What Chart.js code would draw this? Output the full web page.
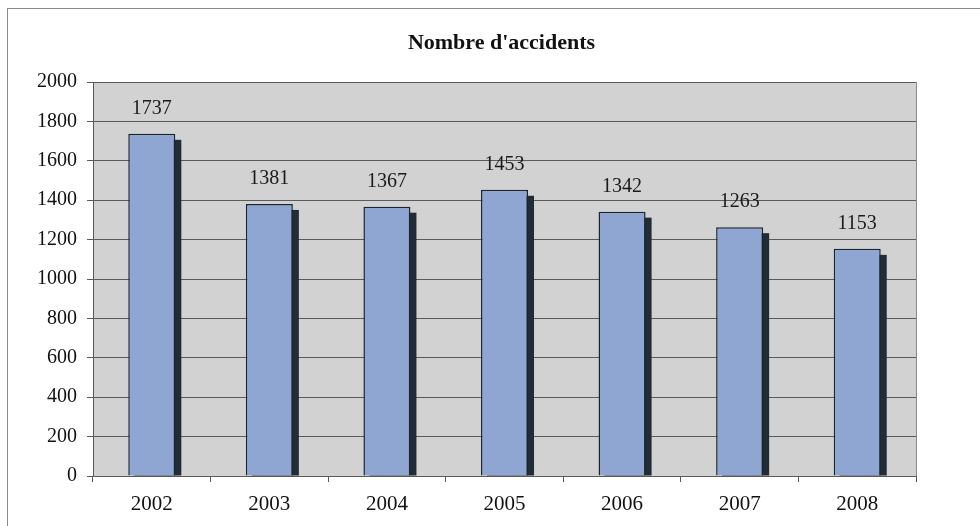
<!DOCTYPE html>
<html>
<head>
<meta charset="utf-8">
<script src="https://cdn.jsdelivr.net/npm/chart.js@4/dist/chart.umd.min.js"></script>
<style>
  html, body { margin: 0; padding: 0; background: #fff; }
  #wrap { width: 980px; height: 526px; }
</style>
</head>
<body>
<div id="wrap"><canvas id="chart" width="980" height="526"></canvas></div>
<script>
const years = ['2002', '2003', '2004', '2005', '2006', '2007', '2008'];
const accidents = [1737, 1381, 1367, 1453, 1342, 1263, 1153];
const yTicks = [0, 200, 400, 600, 800, 1000, 1200, 1400, 1600, 1800, 2000];
const chartTitle = "Nombre d'accidents";

const serif = '"Liberation Serif", "Times New Roman", serif';
const barFill = '#8fa5d2';
const barEdge = '#1b2530';
const shadowColor = '#222c36';
const gridColor = '#5a5a5a';

// outer frame, grey plot background and the title over the plot
const framePlugin = {
  id: 'frame',
  beforeDraw(chart) {
    const { ctx, chartArea: a } = chart;
    ctx.save();
    ctx.strokeStyle = '#8a8a8a';
    ctx.lineWidth = 1;
    ctx.strokeRect(7.5, 8.5, 1000, 600);
    ctx.fillStyle = '#d2d2d2';
    ctx.fillRect(a.left, a.top, a.right - a.left, a.bottom - a.top);
    ctx.fillStyle = '#111';
    ctx.font = 'bold 22px ' + serif;
    ctx.textAlign = 'center';
    ctx.textBaseline = 'middle';
    ctx.fillText(chartTitle, (a.left + a.right) / 2 - 3, 43);
    ctx.restore();
  },
  afterDraw(chart) {
    const { ctx, chartArea: a } = chart;
    ctx.save();
    ctx.strokeStyle = '#8a8a8a';
    ctx.beginPath();
    ctx.moveTo(Math.round(a.right) + 0.5, a.top);
    ctx.lineTo(Math.round(a.right) + 0.5, a.bottom);
    ctx.stroke();
    ctx.restore();
  }
};

// dark drop shadow behind each bar, and the value above it
const barExtras = {
  id: 'barExtras',
  beforeDatasetsDraw(chart) {
    const { ctx } = chart;
    const meta = chart.getDatasetMeta(0);
    ctx.save();
    ctx.fillStyle = shadowColor;
    meta.data.forEach(bar => {
      const w = bar.width;
      ctx.fillRect(bar.x - w / 2 + 6, bar.y + 6, w, bar.base - bar.y - 6);
    });
    ctx.restore();
  },
  afterDatasetsDraw(chart) {
    const { ctx } = chart;
    const meta = chart.getDatasetMeta(0);
    ctx.save();
    ctx.fillStyle = '#1a1a1a';
    ctx.font = '20px ' + serif;
    ctx.textAlign = 'center';
    ctx.textBaseline = 'middle';
    meta.data.forEach((bar, i) => {
      ctx.fillText(String(accidents[i]), bar.x, bar.y - 25);
    });
    ctx.restore();
  }
};

new Chart(document.getElementById('chart'), {
  type: 'bar',
  data: {
    labels: years,
    datasets: [{
      data: accidents,
      backgroundColor: barFill,
      borderColor: barEdge,
      borderWidth: 1.5,
      borderSkipped: 'bottom',
      barPercentage: 0.8,
      categoryPercentage: 0.5
    }]
  },
  options: {
    responsive: false,
    animation: false,
    layout: { padding: { top: 82, right: 64, bottom: 0, left: 0 } },
    plugins: {
      legend: { display: false },
      tooltip: { enabled: false },
      title: { display: false }
    },
    scales: {
      x: {
        grid: { display: true, drawOnChartArea: false, color: gridColor, tickLength: 6, offset: true },
        border: { color: gridColor },
        ticks: { color: '#111', font: { family: serif, size: 21 }, padding: 10 },
        afterFit: s => { s.height = 50; }
      },
      y: {
        min: 0,
        max: 2000,
        afterBuildTicks: s => { s.ticks = yTicks.map(v => ({ value: v })); },
        grid: { color: gridColor, tickLength: 6 },
        border: { color: gridColor },
        ticks: { color: '#111', font: { family: serif, size: 20 }, padding: 10, callback: v => String(v) },
        afterFit: s => { s.width = 93; }
      }
    }
  },
  plugins: [framePlugin, barExtras]
});
</script>
</body>
</html>
